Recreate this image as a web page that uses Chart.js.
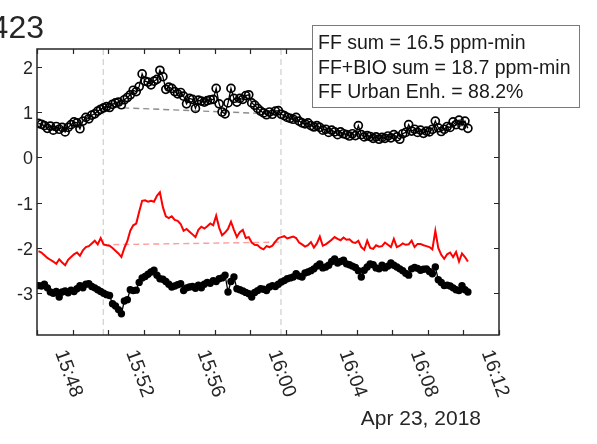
<!DOCTYPE html>
<html>
<head>
<meta charset="utf-8">
<script src="https://cdn.jsdelivr.net/npm/chart.js@4.4.1/dist/chart.umd.min.js"></script>
<style>
  html, body { margin: 0; padding: 0; background: #fff; }
  #wrap { width: 597px; height: 444px; }
</style>
</head>
<body>
<div id="wrap"><canvas id="chart" width="597" height="444"></canvas></div>
<script>
// --- Data: x in minutes after 15:46, one sample every 10 s starting 15:46:05 ---
const startMin = 5 / 60;
const stepMin = 10 / 60;

const circleVals = [
  0.75, 0.73, 0.70, 0.64, 0.69, 0.60, 0.68, 0.62, 0.66, 0.56,
  0.66, 0.72, 0.78, 0.76, 0.63, 0.80, 0.88, 0.85, 0.93, 0.96,
  1.02, 1.06, 1.09, 1.12, 1.10, 1.17, 1.20, 1.22, 1.16, 1.27,
  1.32, 1.38, 1.48, 1.45, 1.56, 1.84, 1.68, 1.66, 1.60, 1.68,
  1.72, 1.92, 1.78, 1.50, 1.55, 1.52, 1.45, 1.40, 1.43, 1.35,
  1.18, 1.30, 1.28, 1.08, 1.26, 1.24, 1.22, 1.25, 1.27, 1.28,
  1.52, 1.18, 1.00, 0.96, 1.20, 1.52, 1.30, 1.22, 1.30, 1.28,
  1.36, 1.38, 1.20, 1.15, 1.08, 1.02, 0.98, 0.94, 1.00, 0.95,
  1.02, 1.03, 0.95, 0.92, 0.88, 0.86, 0.84, 0.88, 0.80, 0.76,
  0.74, 0.76, 0.70, 0.67, 0.70, 0.66, 0.60, 0.62, 0.55, 0.60,
  0.56, 0.50, 0.56, 0.52, 0.50, 0.47, 0.52, 0.48, 0.70, 0.50,
  0.45, 0.48, 0.46, 0.42, 0.45, 0.40, 0.44, 0.42, 0.47, 0.43,
  0.50, 0.45, 0.40, 0.52, 0.55, 0.72, 0.58, 0.62, 0.55, 0.60,
  0.53, 0.58, 0.56, 0.62, 0.80, 0.65, 0.57, 0.62, 0.68, 0.66,
  0.78, 0.72, 0.82, 0.70, 0.80, 0.64
];

const redVals = [
  -2.07, -2.10, -2.16, -2.22, -2.26, -2.30, -2.35, -2.25, -2.32, -2.38,
  -2.26, -2.20, -2.14, -2.10, -2.17, -2.05, -1.98, -1.96, -1.90, -1.84,
  -1.92, -1.78, -1.92, -1.94, -1.95, -2.00, -2.06, -2.12, -2.20, -2.00,
  -1.85, -1.62, -1.50, -1.46, -1.20, -0.96, -0.95, -0.98, -0.96, -0.98,
  -0.85, -0.77, -1.10, -1.30, -1.34, -1.30, -1.38, -1.40, -1.47, -1.62,
  -1.58, -1.64, -1.70, -1.76, -1.60, -1.53, -1.57, -1.52, -1.46, -1.50,
  -1.29, -1.55, -1.72, -1.66, -1.58, -1.42, -1.60, -1.76, -1.65, -1.60,
  -1.78, -1.76, -1.88, -1.93, -1.94, -2.00, -2.03, -1.96, -1.98, -1.95,
  -1.86, -1.78, -1.76, -1.74, -1.79, -1.77, -1.75, -1.78, -1.88, -1.92,
  -1.97, -1.94, -1.87, -1.99, -1.90, -1.75, -1.95, -1.92, -1.87, -1.82,
  -1.76, -1.80, -1.83, -1.77, -1.82, -1.81, -1.87, -1.89, -1.84, -1.98,
  -2.04, -1.84, -2.00, -2.02, -1.94, -1.97, -1.96, -1.88, -1.93, -1.98,
  -1.80, -1.98, -1.95, -1.90, -1.93, -1.92, -1.84, -1.98, -1.91, -1.91,
  -1.94, -1.96, -1.98, -2.03, -1.62, -2.00, -2.15, -2.24, -2.14, -2.10,
  -2.20, -2.09, -2.30, -2.12, -2.20, -2.30
];

const dotVals = [
  -2.83, -2.84, -2.80, -2.88, -2.97, -3.00, -2.96, -3.08, -2.97, -2.95,
  -2.99, -2.93, -2.96, -2.90, -2.83, -2.88, -2.80, -2.79, -2.85, -2.88,
  -2.92, -2.96, -3.00, -3.03, -3.05, -3.23, -3.28, -3.36, -3.45, -3.17,
  -3.14, -2.92, -2.94, -2.93, -2.76, -2.66, -2.63, -2.58, -2.53, -2.49,
  -2.60, -2.68, -2.69, -2.74, -2.80, -2.86, -2.84, -2.81, -2.79, -2.94,
  -2.88, -2.86, -2.85, -2.89, -2.82, -2.88, -2.80, -2.76, -2.78, -2.72,
  -2.74, -2.68, -2.66, -2.60, -2.97, -2.74, -2.64, -2.90, -2.92, -2.95,
  -2.98, -3.01, -3.08, -2.98, -2.94, -2.90, -2.91, -2.94, -2.86, -2.83,
  -2.85, -2.80, -2.75, -2.72, -2.68, -2.66, -2.64, -2.57, -2.62, -2.64,
  -2.55, -2.53, -2.50, -2.46, -2.40, -2.35, -2.44, -2.42, -2.38, -2.30,
  -2.24, -2.33, -2.30, -2.27, -2.35, -2.37, -2.40, -2.43, -2.50, -2.64,
  -2.49, -2.42, -2.35, -2.37, -2.44, -2.46, -2.38, -2.44, -2.40, -2.33,
  -2.38, -2.42, -2.46, -2.50, -2.56, -2.60, -2.46, -2.43, -2.45, -2.49,
  -2.47, -2.46, -2.52, -2.57, -2.42, -2.70, -2.76, -2.83, -2.82, -2.84,
  -2.88, -2.92, -2.94, -2.83, -2.92, -2.97
];

// background window (15:49:44 - 15:59:44) and its linear baselines
const windowX = [3.73, 13.73];
const circleBase = [1.11, 0.95];
const redBase = [-1.93, -1.87];

// axes
const xRange = [0, 26];
const yRange = [-3.92, 2.39];
const xTickMarks = [0, 2, 4, 6, 8, 10, 12, 14, 16, 18, 20, 22, 24, 26];
const xLabelVals = [2, 6, 10, 14, 18, 22, 26];
const xLabels = ['15:48', '15:52', '15:56', '16:00', '16:04', '16:08', '16:12'];
const yTickVals = [-3, -2, -1, 0, 1, 2];
const yLabels = ['-3', '-2', '-1', '0', '1', '2'];
const dateLabel = 'Apr 23, 2018';
const titleText = '423';
const boxLines = ['FF sum = 16.5 ppm-min', 'FF+BIO sum = 18.7 ppm-min', 'FF Urban Enh. = 88.2%'];

const INK = '#262626';
const FONT = '"Liberation Sans", Arial, sans-serif';

const toPoints = vals => vals.map((v, i) => ({ x: startMin + i * stepMin, y: v }));

// --- frame, ticks, labels and text box (MATLAB-like box axes) ---
const frame = {
    id: 'frame',
    afterDraw(chart) {
        const { ctx, chartArea: a, scales: { x, y } } = chart;
        ctx.save();
        ctx.strokeStyle = INK;
        ctx.fillStyle = INK;
        ctx.lineWidth = 1.5;
        ctx.strokeRect(a.left, a.top, a.right - a.left, a.bottom - a.top);

        // inward ticks on all four sides
        ctx.lineWidth = 1.2;
        ctx.beginPath();
        xTickMarks.forEach(v => {
            const px = Math.round(x.getPixelForValue(v)) + 0.5;
            ctx.moveTo(px, a.bottom); ctx.lineTo(px, a.bottom - 5);
            ctx.moveTo(px, a.top); ctx.lineTo(px, a.top + 5);
        });
        yTickVals.forEach(v => {
            const py = Math.round(y.getPixelForValue(v)) + 0.5;
            ctx.moveTo(a.left, py); ctx.lineTo(a.left + 5, py);
            ctx.moveTo(a.right, py); ctx.lineTo(a.right - 5, py);
        });
        ctx.stroke();

        // y labels
        ctx.font = '18px ' + FONT;
        ctx.textAlign = 'right';
        ctx.textBaseline = 'alphabetic';
        yTickVals.forEach((v, i) => {
            ctx.fillText(yLabels[i], a.left - 4, y.getPixelForValue(v) + 7);
        });

        // x labels, rotated clockwise
        const ang = 70 * Math.PI / 180;
        ctx.font = '19.5px ' + FONT;
        ctx.textAlign = 'left';
        xLabelVals.forEach((v, i) => {
            const px = x.getPixelForValue(v);
            ctx.save();
            ctx.translate(px - 17.5, a.bottom + 17.5);
            ctx.rotate(ang);
            ctx.fillText(xLabels[i], 0, 0);
            ctx.restore();
        });

        ctx.font = '21px ' + FONT;
        ctx.textAlign = 'right';
        ctx.fillText(dateLabel, 481, 425);

        ctx.font = '32px ' + FONT;
        ctx.fillText(titleText, 44, 38);

        // text box
        ctx.fillStyle = '#fff';
        ctx.fillRect(312, 25, 267, 82);
        ctx.strokeStyle = '#7a7a7a';
        ctx.lineWidth = 1;
        ctx.strokeRect(312.5, 25.5, 267, 82);
        ctx.fillStyle = '#1a1a1a';
        ctx.font = '19.5px ' + FONT;
        ctx.textAlign = 'left';
        boxLines.forEach((t, i) => ctx.fillText(t, 318, 49 + i * 24.6));
        ctx.restore();
    }
};

const vLine = (xv) => ({
    data: [{ x: xv, y: yRange[0] }, { x: xv, y: yRange[1] }],
    borderColor: '#cfcfcf', borderWidth: 1.2, borderDash: [6, 4],
    pointRadius: 0, order: 9
});

new Chart(document.getElementById('chart'), {
    type: 'line',
    data: {
        datasets: [
            vLine(windowX[0]),
            vLine(windowX[1]),
            {
                data: [{ x: windowX[0], y: circleBase[0] }, { x: windowX[1], y: circleBase[1] }],
                borderColor: '#8c8c8c', borderWidth: 1.4, borderDash: [6, 4],
                pointRadius: 0, order: 8
            },
            {
                data: [{ x: windowX[0], y: redBase[0] }, { x: windowX[1], y: redBase[1] }],
                borderColor: '#ff9c9c', borderWidth: 1.4, borderDash: [6, 4],
                pointRadius: 0, order: 7
            },
            {
                data: toPoints(redVals),
                borderColor: '#ff0000', borderWidth: 2,
                pointRadius: 0, order: 3
            },
            {
                data: toPoints(dotVals),
                borderColor: '#000', borderWidth: 1.3,
                pointRadius: 3.7, pointBackgroundColor: '#000', pointBorderWidth: 0,
                order: 2
            },
            {
                data: toPoints(circleVals),
                borderColor: '#000', borderWidth: 1.3,
                pointRadius: 4, pointBackgroundColor: 'rgba(255,255,255,0)',
                pointBorderColor: '#000', pointBorderWidth: 1.7,
                order: 1
            }
        ]
    },
    options: {
        responsive: false,
        animation: false,
        events: [],
        layout: { padding: { left: 37, top: 49, right: 98, bottom: 109 } },
        elements: { line: { tension: 0 } },
        scales: {
            x: { type: 'linear', min: xRange[0], max: xRange[1], display: false },
            y: { type: 'linear', min: yRange[0], max: yRange[1], display: false }
        },
        plugins: { legend: { display: false }, tooltip: { enabled: false } }
    },
    plugins: [frame]
});
</script>
</body>
</html>
